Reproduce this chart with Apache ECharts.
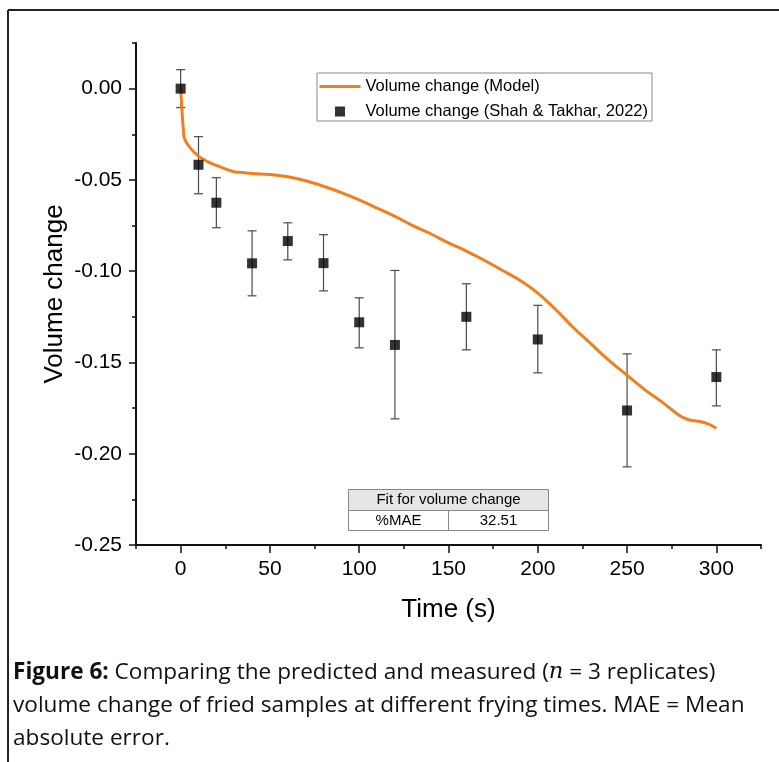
<!DOCTYPE html>
<html><head><meta charset="utf-8">
<script src="https://cdn.jsdelivr.net/npm/echarts@6/dist/echarts.min.js"></script>
<style>html,body{margin:0;padding:0;background:#fff}#c{width:779px;height:762px}</style>
</head><body><div id="c"></div>
<script>
// Model curve
const modelTime  = [0, 0.5, 1, 1.5, 2, 5, 10, 15, 20, 25, 30, 35, 40, 50, 60, 70, 80, 90, 100, 110, 120, 130, 140, 150, 160, 170, 180, 190, 200, 210, 220, 230, 240, 250, 260, 270, 280, 285, 290, 295, 300];
const modelValue = [0, -0.008, -0.016, -0.022, -0.027, -0.032, -0.037, -0.040, -0.042, -0.044, -0.0455, -0.046, -0.0465, -0.047, -0.0483, -0.0505, -0.0535, -0.057, -0.061, -0.0655, -0.070, -0.075, -0.0795, -0.0845, -0.089, -0.094, -0.0995, -0.105, -0.112, -0.121, -0.131, -0.140, -0.149, -0.157, -0.165, -0.172, -0.1795, -0.1815, -0.1822, -0.1835, -0.186];
// Measured data (Shah & Takhar, 2022)
const obsTime   = [0, 10, 20, 40, 60, 80, 100, 120, 160, 200, 250, 300];
const obsValue  = [0, -0.0417, -0.0625, -0.0957, -0.0835, -0.0956, -0.128, -0.1404, -0.125, -0.1374, -0.1763, -0.158];
const obsTop    = [0.0104, -0.0263, -0.0488, -0.0779, -0.0735, -0.0800, -0.1146, -0.0996, -0.1069, -0.1187, -0.1453, -0.1431];
const obsBottom = [-0.0104, -0.0576, -0.0762, -0.1135, -0.0938, -0.1108, -0.1420, -0.1809, -0.1431, -0.1557, -0.2072, -0.1738];
// Ticks
const xMajorTicks = [0, 50, 100, 150, 200, 250, 300];
const yMajorTicks = [-0.25, -0.20, -0.15, -0.10, -0.05, 0.00];
const seriesNames = ['Volume change (Model)', 'Volume change (Shah & Takhar, 2022)'];
const fitTitle = 'Fit for volume change';
const fitLabel = '%MAE';
const fitValue = '32.51';

const FONT = 'Liberation Sans';
const chart = echarts.init(document.getElementById('c'), null, {renderer: 'canvas'});

const modelData = modelTime.map((t, i) => [t, modelValue[i]]);
const obsData = obsTime.map((t, i) => [t, obsValue[i]]);
const errData = obsTime.map((t, i) => [t, obsBottom[i], obsTop[i]]);

const axisLineStyle = {color: '#111', width: 2};
const squareIcon = 'path://M0,0L0.01,0L0.01,0.01ZM15.5,0L25.5,0L25.5,10L15.5,10ZM40.99,9.99L41,9.99L41,10Z';

chart.setOption({
  animation: false,
  backgroundColor: '#fff',
  textStyle: {fontFamily: FONT},
  grid: {left: 136, right: 18, top: 43, bottom: 217},
  legend: {
    data: [
      {name: seriesNames[0], itemStyle: {opacity: 0}, lineStyle: {width: 3, color: '#F07F1F'}},
      {name: seriesNames[1], icon: squareIcon}
    ],
    orient: 'vertical',
    left: 317, top: 73,
    itemWidth: 41, itemHeight: 10, itemGap: 8,
    padding: [5, 4, 1, 1],
    borderColor: '#888', borderWidth: 1,
    textStyle: {fontFamily: FONT, fontSize: 16.5, color: '#000'}
  },
  xAxis: [{
    type: 'value', min: -25, max: 325, interval: 25,
    axisLine: {onZero: false, lineStyle: axisLineStyle},
    axisTick: {inside: false, length: 4, lineStyle: {color: '#111', width: 1.5}},
    axisLabel: {
      margin: 14, fontSize: 21, color: '#000', fontFamily: FONT,
      formatter: v => xMajorTicks.indexOf(v) >= 0 ? String(v) : ''
    },
    splitLine: {show: false},
    name: 'Time (s)', nameLocation: 'middle', nameGap: 52, nameMoveOverlap: false,
    nameTextStyle: {fontSize: 26, color: '#000', fontFamily: FONT}
  }, {
    type: 'value', min: -25, max: 325, position: 'bottom',
    axisLine: {show: false, onZero: false},
    axisTick: {inside: false, length: 8, customValues: xMajorTicks, lineStyle: {color: '#111', width: 1.5}},
    axisLabel: {show: false},
    splitLine: {show: false}
  }],
  yAxis: [{
    type: 'value', min: -0.25, max: 0.025, interval: 0.025,
    axisLine: {onZero: false, lineStyle: axisLineStyle},
    axisTick: {inside: false, length: 4, lineStyle: {color: '#111', width: 1.5}},
    axisLabel: {
      margin: 14, fontSize: 21, color: '#000', fontFamily: FONT,
      formatter: v => {
        const hit = yMajorTicks.some(m => Math.abs(m - v) < 1e-9);
        return hit ? v.toFixed(2) : '';
      }
    },
    splitLine: {show: false},
    name: 'Volume change', nameLocation: 'middle', nameGap: 68, nameMoveOverlap: false,
    nameTextStyle: {fontSize: 26, color: '#000', fontFamily: FONT}
  }, {
    type: 'value', min: -0.25, max: 0.025, position: 'left',
    axisLine: {show: false, onZero: false},
    axisTick: {inside: false, length: 7, customValues: yMajorTicks, lineStyle: {color: '#111', width: 1.5}},
    axisLabel: {show: false},
    splitLine: {show: false}
  }],
  series: [{
    name: 'errorbars',
    type: 'custom',
    xAxisIndex: 0, yAxisIndex: 0,
    data: errData,
    encode: {x: 0, y: [1, 2]},
    z: 1,
    renderItem: function (params, api) {
      const x = api.value(0), lo = api.value(1), hi = api.value(2);
      const pHi = api.coord([x, hi]), pLo = api.coord([x, lo]);
      const w = 4.5;
      const st = {stroke: '#4a4a4a', lineWidth: 1.2};
      return {type: 'group', children: [
        {type: 'line', shape: {x1: pHi[0], y1: pHi[1], x2: pLo[0], y2: pLo[1]}, style: st},
        {type: 'line', shape: {x1: pHi[0] - w, y1: pHi[1], x2: pHi[0] + w, y2: pHi[1]}, style: st},
        {type: 'line', shape: {x1: pLo[0] - w, y1: pLo[1], x2: pLo[0] + w, y2: pLo[1]}, style: st}
      ]};
    }
  }, {
    name: seriesNames[0],
    type: 'line',
    xAxisIndex: 0, yAxisIndex: 0,
    data: modelData,
    showSymbol: false, symbol: 'none',
    smooth: 0.4,
    z: 2,
    lineStyle: {color: '#F07F1F', width: 3},
    itemStyle: {color: '#F07F1F'}
  }, {
    name: seriesNames[1],
    type: 'scatter',
    xAxisIndex: 0, yAxisIndex: 0,
    data: obsData,
    symbol: 'rect', symbolSize: 10,
    z: 3,
    itemStyle: {color: '#000'}
  }],
  graphic: [
    {type: 'line', shape: {x1: 8, y1: 10, x2: 779, y2: 10}, style: {stroke: '#222', lineWidth: 2}},
    {type: 'line', shape: {x1: 8, y1: 10, x2: 8, y2: 762}, style: {stroke: '#222', lineWidth: 2}},
    {type: 'rect', shape: {x: 348.5, y: 489.5, width: 200, height: 21}, style: {fill: '#e6e6e6', stroke: '#888', lineWidth: 1}},
    {type: 'rect', shape: {x: 348.5, y: 510.5, width: 200, height: 20}, style: {fill: '#fff', stroke: '#888', lineWidth: 1}},
    {type: 'line', shape: {x1: 448.5, y1: 510.5, x2: 448.5, y2: 530.5}, style: {stroke: '#888', lineWidth: 1}},
    {type: 'text', x: 448.5, y: 500, style: {text: fitTitle, font: '15px "Liberation Sans"', fill: '#000', align: 'center', verticalAlign: 'middle'}},
    {type: 'text', x: 398.5, y: 521, style: {text: fitLabel, font: '15px "Liberation Sans"', fill: '#000', align: 'center', verticalAlign: 'middle'}},
    {type: 'text', x: 498.5, y: 521, style: {text: fitValue, font: '15px "Liberation Sans"', fill: '#000', align: 'center', verticalAlign: 'middle'}},
    {type: 'text', x: 13, y: 656, style: {
      text: '{b|Figure 6:} Comparing the predicted and measured ({i|n} = 3 replicates)\nvolume change of fried samples at different frying times. MAE = Mean\nabsolute error.',
      fontFamily: 'Open Sans', fontSize: 22.6, lineHeight: 33, fill: '#111',
      rich: {
        b: {fontFamily: 'Open Sans', fontWeight: 'bold', fontSize: 22.6, lineHeight: 33, fill: '#111'},
        i: {fontFamily: 'DejaVu Serif', fontStyle: 'italic', fontSize: 22.6, lineHeight: 33, fill: '#111'}
      }
    }}
  ]
});
</script>
</body></html>
